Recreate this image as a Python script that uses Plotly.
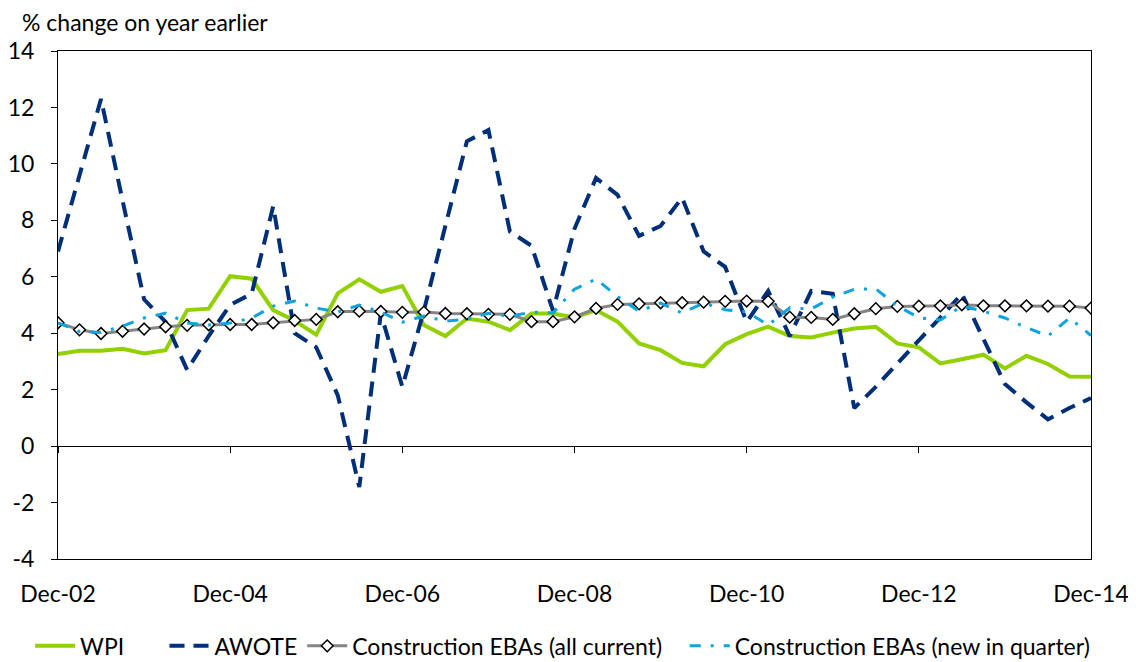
import plotly.graph_objects as go

# Quarterly categories Dec-02 .. Dec-14
months = ["Dec", "Mar", "Jun", "Sep"]
quarters = []
for i in range(49):
    m = months[i % 4]
    yr = 2 + (i + 3) // 4 if i % 4 != 0 else 2 + i // 4
    quarters.append(f"{m}-{yr:02d}")

tick_labels = ["Dec-02", "Dec-04", "Dec-06", "Dec-08", "Dec-10", "Dec-12", "Dec-14"]
y_ticks = [-4, -2, 0, 2, 4, 6, 8, 10, 12, 14]
y_tick_text = ["-4", "-2", "0", "2", "4", "6", "8", "10", "12", "14"]

series_names = ["WPI", "AWOTE", "Construction EBAs (all current)",
                "Construction EBAs (new in quarter)"]

wpi = [3.26, 3.38, 3.38, 3.45, 3.28, 3.40, 4.82, 4.87, 6.02, 5.93, 4.82, 4.44, 3.95,
       5.41, 5.91, 5.47, 5.67, 4.29, 3.90, 4.52, 4.41, 4.11, 4.70, 4.70, 4.56, 4.82,
       4.41, 3.64, 3.40, 2.95, 2.83, 3.61, 3.97, 4.23, 3.90, 3.85, 4.02, 4.17, 4.23,
       3.64, 3.50, 2.93, 3.08, 3.24, 2.75, 3.20, 2.91, 2.47, 2.46]

awote = [6.9, 9.6, 12.3, 8.7, 5.2, 4.4, 2.7, 3.9, 5.0, 5.4, 8.5, 4.0, 3.5, 1.8, -1.45,
         4.7, 2.1, 4.8, 7.8, 10.8, 11.2, 7.6, 7.1, 4.8, 7.7, 9.5, 8.9, 7.45, 7.8, 8.8,
         6.9, 6.35, 4.4, 5.5, 3.9, 5.5, 5.4, 1.35, 2.1, 2.95, 3.75, 4.55, 5.4, 3.8, 2.2,
         1.55, 0.95, 1.35, 1.7]

eba_all = [4.37, 4.12, 3.99, 4.07, 4.15, 4.23, 4.28, 4.30, 4.31, 4.31, 4.37, 4.45, 4.49,
           4.76, 4.78, 4.77, 4.74, 4.75, 4.70, 4.69, 4.67, 4.67, 4.41, 4.41, 4.58, 4.88,
           5.02, 5.04, 5.08, 5.08, 5.10, 5.13, 5.14, 5.13, 4.57, 4.56, 4.49, 4.69, 4.87,
           4.95, 4.96, 4.97, 5.01, 4.97, 4.97, 4.97, 4.96, 4.96, 4.89]

eba_new = [4.37, 4.06, 4.03, 4.25, 4.54, 4.71, 4.36, 4.29, 4.36, 4.54, 4.96, 5.14, 4.89,
           4.75, 5.0, 4.75, 4.39, 4.61, 4.43, 4.5, 4.71, 4.6, 4.75, 4.72, 5.56, 5.92,
           5.3, 4.78, 5.07, 4.72, 5.07, 4.83, 4.76, 4.29, 4.9, 4.86, 5.28, 5.56, 5.57,
           4.97, 4.55, 4.47, 4.96, 4.78, 4.54, 4.2, 3.9, 4.54, 3.92]

FONT = "Lato, 'Open Sans', sans-serif"
FS = 23
NB = "\u00a0"  # extra legend spacing after an entry

fig = go.Figure()
fig.add_trace(go.Scatter(x=quarters, y=wpi, name=series_names[0] + NB * 6, mode="lines",
                         line=dict(color="#92D000", width=4)))
fig.add_trace(go.Scatter(x=quarters, y=awote, name=series_names[1], mode="lines",
                         line=dict(color="#002F7A", width=4, dash="15px,9px")))
fig.add_trace(go.Scatter(x=quarters, y=eba_all, name=series_names[2] + NB * 3,
                         mode="lines+markers",
                         line=dict(color="#858585", width=3),
                         marker=dict(symbol="diamond", size=9, color="white",
                                     line=dict(color="black", width=1.5))))
fig.add_trace(go.Scatter(x=quarters, y=eba_new, name=series_names[3],
                         mode="lines",
                         line=dict(color="#0BA3E0", width=3, dash="11px,10px,3px,10px")))
# helper trace for the overlay axis carrying the tick marks at zero
fig.add_trace(go.Scatter(x=quarters, y=[None] * len(quarters), xaxis="x2",
                         showlegend=False, hoverinfo="skip", mode="lines"))

# the page body adds an 8px offset, so the figure is sized to fit the window
fig.update_layout(
    width=1128, height=654,
    margin=dict(l=50, r=45, t=43, b=103, autoexpand=False),
    paper_bgcolor="white", plot_bgcolor="white",
    font=dict(family=FONT, size=FS, color="black"),
    xaxis=dict(type="category", range=[0, 48], tickmode="array", tickvals=tick_labels,
               ticktext=tick_labels, showline=True, linecolor="black", linewidth=1,
               mirror=True, ticks="", showgrid=False, zeroline=False, automargin=False,
               tickfont=dict(size=FS), ticklabelstandoff=14),
    xaxis2=dict(type="category", range=[0, 48], overlaying="x", anchor="free",
                position=4 / 18, tickmode="array", tickvals=tick_labels,
                showticklabels=False, ticks="outside", ticklen=6, tickcolor="black",
                showline=False, showgrid=False, zeroline=False, automargin=False),
    yaxis=dict(range=[-4, 14], tickmode="array", tickvals=y_ticks, ticktext=y_tick_text,
               showline=True, linecolor="black", linewidth=1, mirror=True,
               ticks="outside", ticklen=6, tickcolor="black", showgrid=False,
               zeroline=True, zerolinecolor="black", zerolinewidth=1, automargin=False,
               tickfont=dict(size=FS), ticklabelstandoff=12),
    legend=dict(orientation="h", x=-0.027, xanchor="left", y=-0.171, yanchor="middle",
                font=dict(size=FS), itemwidth=40, traceorder="normal"),
    showlegend=True,
    annotations=[dict(text="% change on year earlier", xref="paper", yref="paper",
                      x=-0.037, y=1.058, xanchor="left", yanchor="middle",
                      showarrow=False, font=dict(size=FS))],
)

fig.write_html("out.html")
